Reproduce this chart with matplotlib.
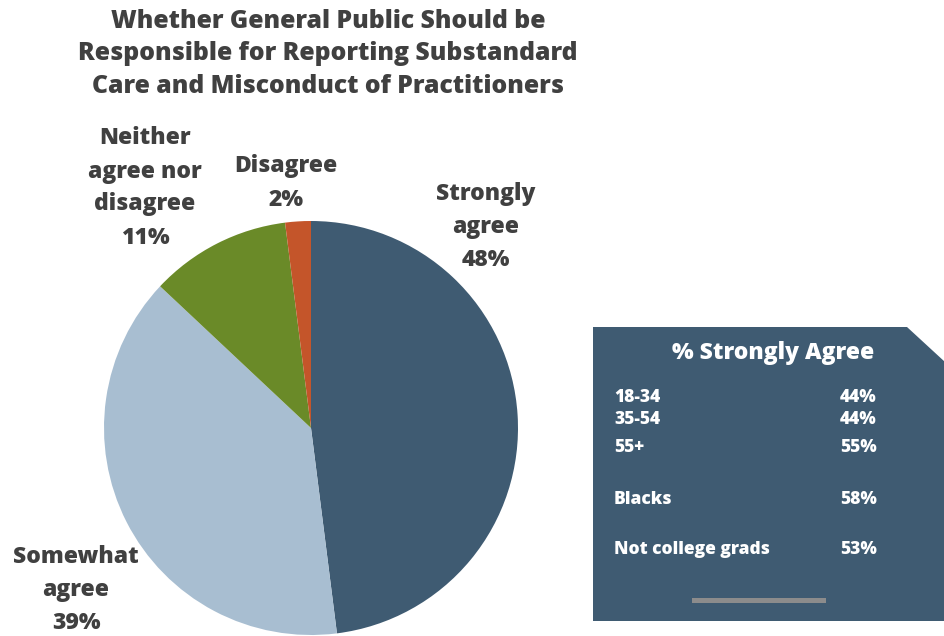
import matplotlib
matplotlib.use("Agg")
import matplotlib.pyplot as plt
from matplotlib.patches import Polygon, Rectangle

# Survey responses
categories = ["Strongly\nagree", "Somewhat\nagree", "Neither\nagree nor\ndisagree", "Disagree"]
shares = [48, 39, 11, 2]
colors = ["#3f5b72", "#a8bed1", "#6a8a28", "#c4552a"]

# Subgroup breakdown of "Strongly agree"
groups = ["18-34", "35-54", "55+", "Blacks", "Not college grads"]
group_pct = [44, 44, 55, 58, 53]

W, H = 945, 636
fig = plt.figure(figsize=(W / 100, H / 100), dpi=100)
ax = fig.add_axes([0, 0, 1, 1])

FONT = "Open Sans"
WEIGHT = 800
TXT = "#404040"

def py(y):
    return H - y

# Pie
ax.pie(shares, colors=colors, startangle=90, counterclock=False,
       center=(311, py(428)), radius=207, frame=True,
       wedgeprops=dict(linewidth=0))
ax.set_xlim(0, W)
ax.set_ylim(0, H)
ax.set_aspect("equal")
ax.axis("off")

# Title
ax.text(328, py(54), "Whether General Public Should be\nResponsible for Reporting Substandard\nCare and Misconduct of Practitioners",
        ha="center", va="center", fontsize=17.8, fontweight=WEIGHT, color=TXT,
        family=FONT, linespacing=1.38)

# Slice labels
label_pos = [(486, 227), (76, 590), (145, 188), (286, 183)]
for name, val, (x, y) in zip(categories, shares, label_pos):
    ax.text(x, py(y), f"{name}\n{val}%", ha="center", va="center",
            fontsize=16.5, fontweight=WEIGHT, color=TXT, family=FONT,
            linespacing=1.5)

# Side panel with clipped corner
box = Polygon([(593, py(327)), (907, py(327)), (945, py(362)),
               (945, py(621)), (593, py(621))],
              closed=True, facecolor="#3f5b72", edgecolor="none")
ax.add_patch(box)
ax.text(773, py(353), "% Strongly Agree", ha="center", va="center",
        fontsize=16.5, fontweight=WEIGHT, color="white", family=FONT)
row_y = [398, 420, 448, 499, 550]
for g, v, y in zip(groups, group_pct, row_y):
    ax.text(614, py(y), g, ha="left", va="center", fontsize=12.5,
            fontweight=WEIGHT, color="white", family=FONT)
    ax.text(840, py(y), f"{v}%", ha="left", va="center", fontsize=12.5,
            fontweight=WEIGHT, color="white", family=FONT)
ax.add_patch(Rectangle((692, py(603)), 134, 5, facecolor="#8c8c8c",
                       edgecolor="none"))

fig.savefig("out.png", dpi=100, facecolor="white")
